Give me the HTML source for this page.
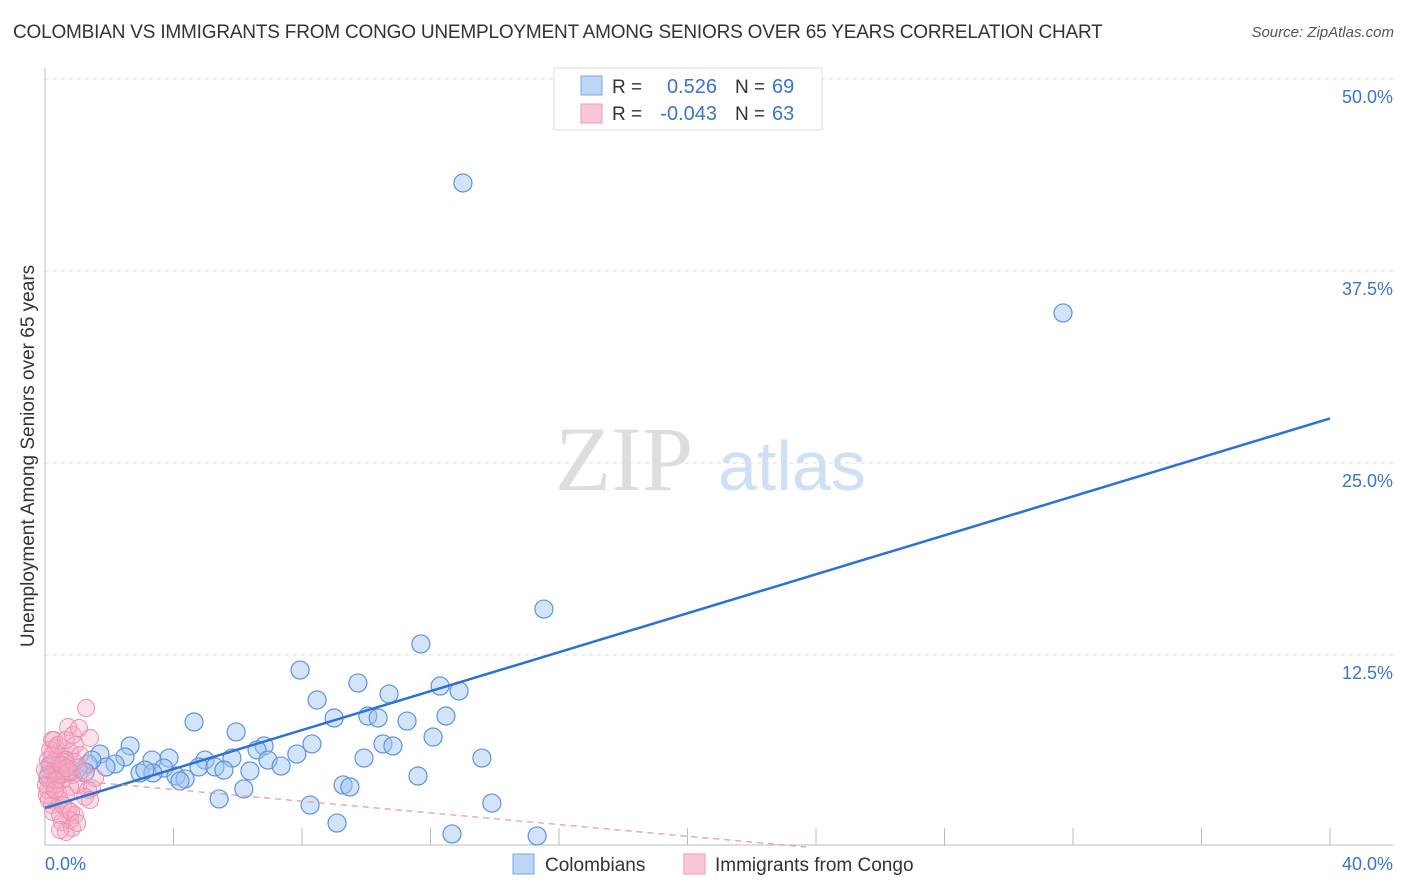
<!DOCTYPE html>
<html><head><meta charset="utf-8">
<style>
body{margin:0;background:#fff;font-family:"Liberation Sans",sans-serif;}
#wrap{position:relative;width:1406px;height:892px;overflow:hidden;}
.title{position:absolute;left:13px;top:22px;font-size:19px;color:#333;letter-spacing:-0.2px;}
.src{position:absolute;right:12px;top:24px;font-size:15px;color:#555;font-style:italic;}
</style></head><body>
<div id="wrap">
<div class="title">COLOMBIAN VS IMMIGRANTS FROM CONGO UNEMPLOYMENT AMONG SENIORS OVER 65 YEARS CORRELATION CHART</div>
<div class="src">Source: ZipAtlas.com</div>
<svg id="svg" width="1406" height="892" style="position:absolute;left:0;top:0"></svg>
</div>
<script>
const bluePx=[[463,183],[1063,313],[544,609],[421,644],[300,670],[358,683],[459,691],[389,694],[440,686],[317,700],[194,722],[334,718],[368,716],[378,718],[446,716],[407,721],[236,732],[433,737],[130,746],[264,746],[312,744],[383,744],[393,746],[257,750],[297,754],[169,758],[152,760],[205,760],[232,758],[268,760],[364,758],[482,758],[100,754],[125,757],[88,764],[115,764],[106,767],[60,765],[78,768],[281,766],[199,767],[215,767],[164,768],[140,773],[153,773],[250,771],[224,770],[176,776],[185,779],[180,781],[418,776],[343,785],[350,787],[244,789],[219,799],[310,805],[492,803],[337,823],[452,834],[537,836],[65,760],[55,770],[70,772],[50,765],[92,760],[145,770],[60,775],[48,778],[85,772]];
const pinkPx=[[86,708],[68,727],[52,740],[75,745],[90,738],[56,748],[70,752],[48,760],[60,757],[80,755],[50,765],[58,770],[65,768],[72,775],[50,780],[55,785],[62,780],[78,785],[88,790],[92,788],[60,800],[52,805],[68,810],[75,815],[70,820],[62,822],[72,828],[66,832],[48,790],[55,760],[64,762],[57,775],[45,770],[50,750],[54,740],[85,797],[90,800],[70,787],[58,792],[66,795],[47,795],[53,812],[60,815],[82,770],[95,778],[48,775],[52,755],[58,745],[66,740],[73,735],[79,728],[62,765],[68,772],[56,780],[74,762],[46,785],[49,800],[55,790],[63,805],[71,812],[77,823],[60,830],[67,768]];
// data values (%)
const blueX=bluePx.map(p=>+((p[0]-45)/32.125).toFixed(2));
const blueY=bluePx.map(p=>+((847-p[1])/15.36).toFixed(2));
const pinkX=pinkPx.map(p=>+((p[0]-45)/32.125).toFixed(2));
const pinkY=pinkPx.map(p=>+((847-p[1])/15.36).toFixed(2));
const blueFit=[2.54,27.9]; // y at x=0 and x=40
const pinkFit=[4.5,-0.19]; // intercept, slope
const yTicks=[12.5,25,37.5,50];
const yTickLabels=["12.5%","25.0%","37.5%","50.0%"];
const xTicks=[4,8,12,16,20,24,28,32,36,40];

const X=v=>45+v*32.125, Y=v=>847-v*15.36;
const svg=document.getElementById('svg');
const NS='http://www.w3.org/2000/svg';
function mk(t,a,parent){const e=document.createElementNS(NS,t);for(const k in a)e.setAttribute(k,a[k]);(parent||svg).appendChild(e);return e;}
yTicks.forEach((t,i)=>{
 const g=mk('line',{x1:45,x2:1393,y1:Y(t),y2:Y(t),stroke:'#ddd','stroke-dasharray':'4,4'});
 
 
 const l=mk('text',{x:1393,y:Y(t)+24,'text-anchor':'end','font-size':'18',fill:'#3a74d0'});
 l.textContent=yTickLabels[i];
 
 
});
let a=mk('line',{x1:45,x2:45,y1:68,y2:845,stroke:'#bbb'});

a=mk('line',{x1:45,x2:1393,y1:845,y2:845,stroke:'#bbb'});

xTicks.forEach(t=>{const e=mk('line',{x1:X(t),x2:X(t),y1:828,y2:845,stroke:'#bbb'});
 
 });
let w=mk('text',{x:555,y:490,'font-size':'92','font-family':'Liberation Serif',fill:'#ddd'});w.textContent='ZIP';

w=mk('text',{x:718,y:490,'font-size':'70',fill:'#cfe0f5'});w.textContent='atlas';

blueX.forEach((x,i)=>{const c=mk('circle',{cx:X(x),cy:Y(blueY[i]),r:9,fill:'rgba(160,196,240,0.45)',stroke:'#5b93dc','stroke-width':1.2});
 
 });
pinkX.forEach((x,i)=>{const c=mk('circle',{cx:X(x),cy:Y(pinkY[i]),r:8.5,fill:'rgba(244,170,195,0.35)',stroke:'#f08fb0','stroke-width':1});
 
 });
let f=mk('line',{x1:X(0),y1:Y(blueFit[0]),x2:X(40),y2:Y(blueFit[1]),stroke:'#2a72d6','stroke-width':2.5});

const pe=-pinkFit[0]/pinkFit[1];
f=mk('line',{x1:X(0),y1:Y(pinkFit[0]),x2:X(pe),y2:Y(0),stroke:'#e891ad','stroke-width':1.2,'stroke-dasharray':'6,5'});

let t=mk('text',{x:45,y:870,'font-size':'18',fill:'#3a74d0'});t.textContent='0.0%';

t=mk('text',{x:1393,y:870,'font-size':'18',fill:'#3a74d0','text-anchor':'end'});t.textContent='40.0%';

t=mk('text',{x:0,y:0,'font-size':'19',fill:'#333','text-anchor':'middle',transform:'translate(34,456) rotate(-90)'});
t.textContent='Unemployment Among Seniors over 65 years';

let g=mk('g',{});
mk('rect',{x:554,y:68,width:268,height:62,fill:'#fff',stroke:'#ddd'},g);
mk('rect',{x:581,y:76,width:21,height:19,fill:'#bcd6f5',stroke:'#7aa7e3'},g);
mk('rect',{x:581,y:104,width:21,height:19,fill:'#f9c7d6',stroke:'#ee98b3'},g);
const rows=[["0.526","69",93],["-0.043","63",120]];
rows.forEach(r=>{
 let e=mk('text',{x:612,y:r[2],'font-size':'19',fill:'#333'},g);e.textContent='R = ';
 e=mk('text',{x:717,y:r[2],'font-size':'20',fill:'#3a74d0','text-anchor':'end'},g);e.textContent=r[0];
 e=mk('text',{x:735,y:r[2],'font-size':'19',fill:'#333'},g);e.textContent='N = ';
 e=mk('text',{x:772,y:r[2],'font-size':'20',fill:'#3a74d0'},g);e.textContent=r[1];
});
g=mk('g',{});
mk('rect',{x:513,y:854,width:21,height:20,fill:'#bcd6f5',stroke:'#7aa7e3'},g);
let e=mk('text',{x:545,y:871,'font-size':'19',fill:'#333'},g);e.textContent='Colombians';
mk('rect',{x:684,y:854,width:21,height:20,fill:'#f9c7d6',stroke:'#ee98b3'},g);
e=mk('text',{x:715,y:871,'font-size':'19',fill:'#333'},g);e.textContent='Immigrants from Congo';
</script>
</body></html>
